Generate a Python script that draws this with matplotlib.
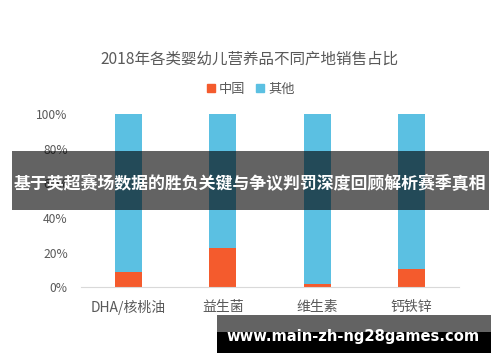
import matplotlib
matplotlib.use("Agg")
import matplotlib.pyplot as plt
from matplotlib.patches import Rectangle, Patch
import numpy as np

plt.rcParams['font.family'] = ['Noto Sans CJK SC', 'DejaVu Sans']

categories = ["DHA/核桃油", "益生菌", "维生素", "钙铁锌"]
china = [9.0, 23.0, 2.0, 10.5]
other = [100 - v for v in china]
series_names = ["中国", "其他"]
yticks = [0, 20, 40, 60, 80, 100]
title = "2018年各类婴幼儿营养品不同产地销售占比"
banner = "基于英超赛场数据的胜负关键与争议判罚深度回顾解析赛季真相"
url = "www.main-zh-ng28games.com"

c_china = "#F45B2D"
c_other = "#5BC0E2"
gray = "#595959"

W, H = 500, 362
fig = plt.figure(figsize=(W/100, H/100), dpi=100)

def fx(px): return px / W
def fy(py): return 1 - py / H

ax = fig.add_axes([fx(81), fy(287.3), (459-81)/W, 173/H])
x = np.arange(len(categories))
ax.bar(x, china, width=0.286, color=c_china, zorder=2)
ax.bar(x, other, bottom=china, width=0.286, color=c_other, zorder=2)
ax.set_xlim(-0.5, len(categories) - 0.5)
ax.set_ylim(0, 100)
ax.set_yticks(yticks)
ax.set_yticklabels([f"{v}%" for v in yticks], color=gray, fontsize=8.7)
ax.set_xticks(x)
ax.set_xticklabels(categories, color=gray, fontsize=10)
for s in ["top", "right", "left"]:
    ax.spines[s].set_visible(False)
ax.spines["bottom"].set_color("#d9d9d9")
ax.tick_params(axis="both", length=0)
ax.tick_params(axis="y", pad=9.5)
ax.tick_params(axis="x", pad=9)

fig.text(fx(249), fy(59), title, ha="center", va="center", fontsize=11.2, color=gray)

handles = [Patch(color=c_china), Patch(color=c_other)]
fig.legend(handles, series_names, loc="center", bbox_to_anchor=(fx(251), fy(89)),
           ncol=2, frameon=False, fontsize=9.5, handlelength=0.6, handleheight=0.6,
           handletextpad=0.3, columnspacing=0.8, labelcolor=gray)

fig.add_artist(Rectangle((fx(12), fy(210)), (489-12)/W, (210-151)/H,
                         transform=fig.transFigure, facecolor="black", alpha=0.61,
                         edgecolor="none", zorder=10))
fig.text(fx(250), fy(184), banner, ha="center", va="center", fontsize=12.2,
         fontweight="bold", color="white", zorder=11)

fig.add_artist(Rectangle((fx(217), fy(332)), (491-217)/W, (332-315)/H,
                         transform=fig.transFigure, facecolor="black", alpha=0.61,
                         edgecolor="none", zorder=10))
fig.add_artist(Rectangle((fx(217), fy(353)), (491-217)/W, (353-332)/H,
                         transform=fig.transFigure, facecolor="black",
                         edgecolor="none", zorder=10))
fig.text(fx(353), fy(336), url, ha="center", va="center", fontsize=10.6,
         fontweight="bold", color="white", zorder=11, family=["DejaVu Sans"])

fig.savefig("out.png", dpi=100)
